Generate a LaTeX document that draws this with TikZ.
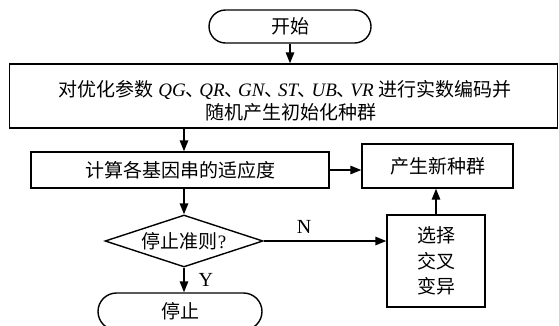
\documentclass[tikz,border=0pt]{standalone}
\usepackage{fontspec}
\setmainfont{Liberation Serif}
\newfontfamily\cjk{Noto Sans CJK SC}
\usetikzlibrary{shapes.misc,shapes.geometric,arrows.meta}
\newcommand\zhs[1]{{\cjk #1}}
\newcommand\dun{\kern-0.5pt{\cjk 、}\kern-5pt}
\tikzset{
  every node/.style={font=\fontsize{19}{24}\selectfont\cjk, inner sep=0pt},
  term/.style={draw, rounded rectangle, line width=1.4pt},
  proc/.style={draw, rectangle, line width=1.4pt},
  dec/.style={draw, diamond, aspect=3, line width=1.4pt},
  arr/.style={line width=1.4pt, -{Triangle[length=11pt,width=8.5pt]}},
  lbl/.style={font=\fontsize{20}{22}\selectfont\rmfamily}
}
\begin{document}
\begin{tikzpicture}[x=1pt,y=-1pt]
\clip (0,0) rectangle (559,325);
\fill[white] (0,0) rectangle (559,325);
\node[term, minimum width=162pt, minimum height=33pt] (start) at (290,26.5) {开始};
\node[proc, minimum width=548pt, minimum height=64pt] (big) at (283.5,96) {};
\node (l1) at (285,90) {对优化参数\;{\rmfamily\itshape QG}\dun{\rmfamily\itshape QR}\dun{\rmfamily\itshape GN}\dun{\rmfamily\itshape ST}\dun{\rmfamily\itshape UB}\dun{\rmfamily\itshape VR}\;进行实数编码并};
\node (l2) at (291,112) {随机产生初始化种群};
\node[proc, minimum width=298pt, minimum height=36pt] (comp) at (180,170) {计算各基因串的适应度};
\node[proc, minimum width=151pt, minimum height=44pt] (new) at (437.5,166) {产生新种群};
\node[dec, minimum width=158pt, minimum height=52pt] (dia) at (184,241) {停止准则{\rmfamily ?}};
\node[proc, minimum width=98pt, minimum height=92pt, align=center, font=\fontsize{19}{25.5}\selectfont\cjk] (sel) at (436,261) {选择\\交叉\\变异};
\node[term, minimum width=164pt, minimum height=37pt] (stop) at (180,311.5) {停止};
\draw[arr] (start.south) -- (start.south |- big.north);
\draw[arr] (dia.north |- big.south) -- (dia.north |- comp.north);
\draw[arr] (dia.north |- comp.south) -- (dia.north);
\draw[arr] (comp.east) -- (comp.east -| new.west);
\draw[arr] (dia.east) -- node[lbl, above=7pt, pos=0.33] (nl) {N} (dia.east -| sel.west);
\draw[arr] (sel.north) -- (sel.north |- new.south);
\draw[arr] (dia.south) -- node[lbl, right=14pt, pos=0.5] (yl) {Y} (dia.south |- stop.north);
\end{tikzpicture}
\end{document}
